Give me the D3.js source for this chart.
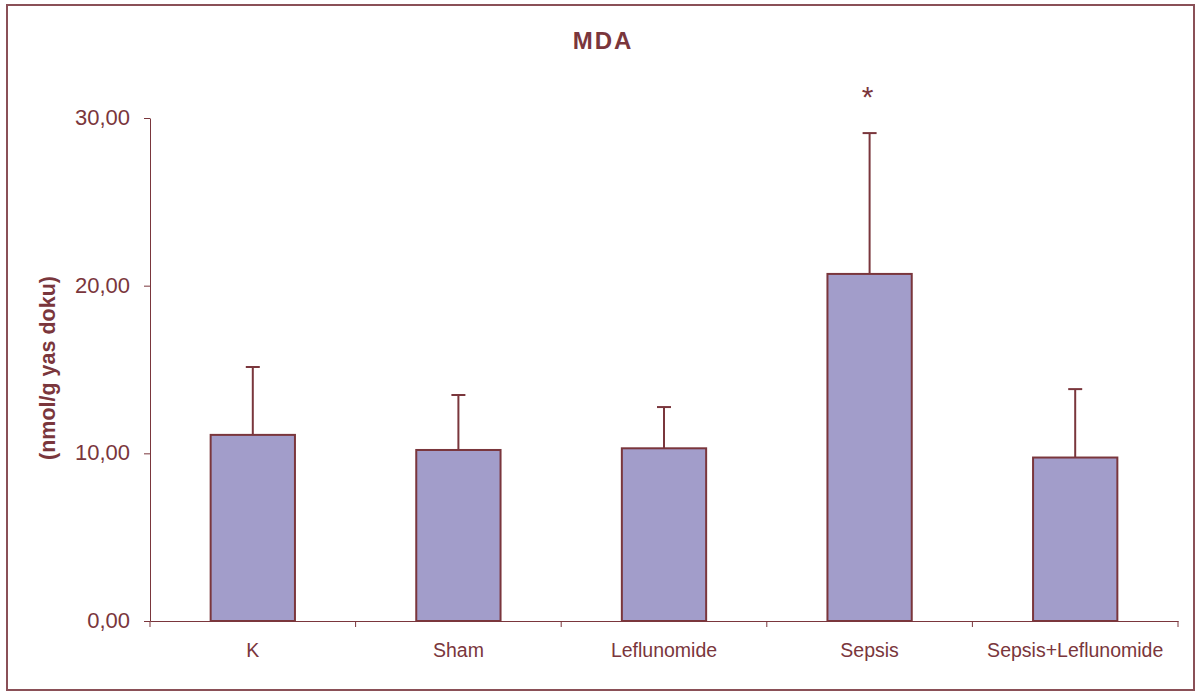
<!DOCTYPE html>
<html><head><meta charset="utf-8">
<script src="https://cdn.jsdelivr.net/npm/d3@7"></script>
<style>body{margin:0;background:#fff}svg{display:block}text{font-family:"Liberation Sans",Arial,sans-serif}</style>
</head><body><svg id="c" width="1196" height="693"></svg>
<script>
const categories = ["K","Sham","Leflunomide","Sepsis","Sepsis+Leflunomide"];
const means = [11.1, 10.2, 10.3, 20.7, 9.75];
const errors = [4.05, 3.28, 2.46, 8.4, 4.08];
const marks = ["","","","*",""];
const yTicks = [0,10,20,30];
const title = "MDA";
const yLabel = "(nmol/g yas doku)";

const col = "#7a363c";
const svg = d3.select("#c");
svg.append("rect").attr("x",7).attr("y",5).attr("width",1187).attr("height",685)
  .attr("fill","none").attr("stroke","#8a5057").attr("stroke-width",2);

const L=150,R=1178,T=118,B=621;
const x = d3.scaleBand().domain(categories).range([L,R]).paddingInner(0.59).paddingOuter(0.295);
const y = d3.scaleLinear().domain([0,30]).range([B,T]);
const fmt = d=>d3.format(".2f")(d).replace(".",",");

const ya = svg.append("g").attr("transform",`translate(${L},0)`)
  .call(d3.axisLeft(y).tickValues(yTicks).tickFormat(fmt).tickSize(6).tickSizeOuter(0).tickPadding(14));
ya.selectAll("path,line").attr("stroke",col);
ya.selectAll("text").attr("fill",col).style("font-size","22px").attr("dy","0.3em");

const xb = d3.scaleBand().domain(categories).range([L,R]);
const xa = svg.append("g").attr("transform",`translate(0,${B})`)
  .call(d3.axisBottom(xb).tickSize(0).tickPadding(22));
xa.selectAll("path").attr("stroke",col);
xa.selectAll("text").attr("fill",col).style("font-size","19.5px");
const edges = categories.map(c=>xb(c)).concat([R]);
svg.append("g").selectAll("line").data(edges).join("line")
  .attr("x1",d=>d).attr("x2",d=>d).attr("y1",B).attr("y2",B+6).attr("stroke",col);

const g = svg.append("g");
g.selectAll("line.err").data(categories).join("line").attr("class","err")
  .attr("x1",c=>x(c)+x.bandwidth()/2).attr("x2",c=>x(c)+x.bandwidth()/2)
  .attr("y1",(c,i)=>y(means[i])).attr("y2",(c,i)=>y(means[i]+errors[i]))
  .attr("stroke",col).attr("stroke-width",2);
g.selectAll("line.cap").data(categories).join("line").attr("class","cap")
  .attr("x1",c=>x(c)+x.bandwidth()/2-7).attr("x2",c=>x(c)+x.bandwidth()/2+7)
  .attr("y1",(c,i)=>y(means[i]+errors[i])).attr("y2",(c,i)=>y(means[i]+errors[i]))
  .attr("stroke",col).attr("stroke-width",2);
g.selectAll("rect").data(categories).join("rect")
  .attr("x",c=>x(c)).attr("width",x.bandwidth())
  .attr("y",(c,i)=>y(means[i])).attr("height",(c,i)=>B-y(means[i]))
  .attr("fill","#a29dca").attr("stroke",col).attr("stroke-width",2);
g.selectAll("text.mark").data(categories).join("text").attr("class","mark")
  .attr("x",c=>x(c)+x.bandwidth()/2-2).attr("y",(c,i)=>y(means[i]+errors[i])-26)
  .attr("text-anchor","middle").attr("fill",col).style("font-size","30px")
  .text((c,i)=>marks[i]);

svg.append("text").attr("x",603).attr("y",49).attr("text-anchor","middle")
  .attr("fill",col).style("font-size","24px").style("font-weight","bold").style("letter-spacing","2px").text(title);
svg.append("text").attr("transform","translate(55,368) rotate(-90)").attr("text-anchor","middle")
  .attr("fill",col).style("font-size","21.5px").style("font-weight","bold").text(yLabel);
</script></body></html>
